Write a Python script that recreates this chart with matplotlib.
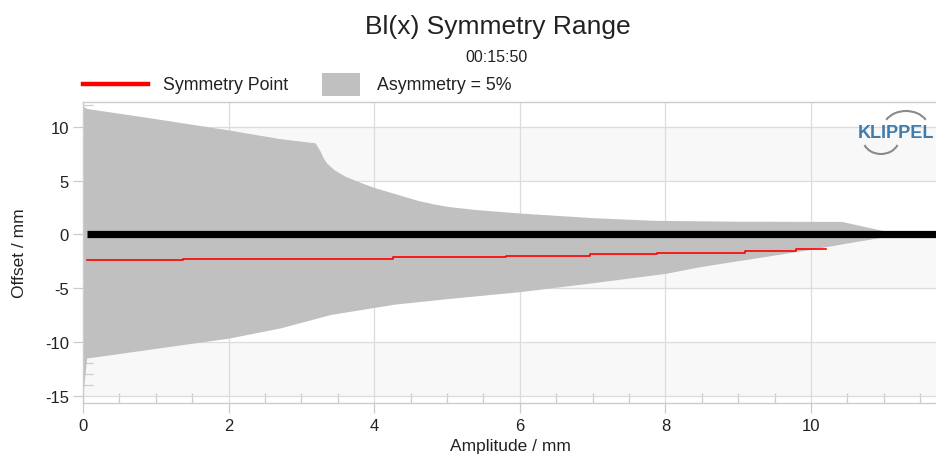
import matplotlib
matplotlib.use("Agg")
import matplotlib.pyplot as plt
from matplotlib.lines import Line2D
from matplotlib.patches import Rectangle, Arc
from matplotlib.transforms import IdentityTransform
import numpy as np

plt.rcParams['font.family'] = ['Liberation Sans', 'DejaVu Sans']
plt.rcParams['axes.unicode_minus'] = False

# ---- data ----
upper_x = [0.0, 0.05, 1.0, 2.0, 2.7, 3.19, 3.26, 3.3, 3.35, 3.45, 3.6, 3.8, 4.0, 4.2, 4.4, 4.6, 4.8, 5.0, 5.4, 6.0, 7.0, 7.84, 9.0, 10.42, 11.22, 11.73]
upper_y = [11.9, 11.7, 10.75, 9.7, 8.9, 8.5, 7.7, 7.1, 6.6, 6.0, 5.4, 4.85, 4.35, 3.95, 3.55, 3.15, 2.85, 2.6, 2.3, 1.98, 1.55, 1.3, 1.22, 1.2, 0.0, 0.0]
lower_x = [0.0, 0.05, 1.0, 2.0, 2.71, 3.4, 4.27, 5.0, 6.0, 7.0, 8.0, 8.48, 9.0, 10.0, 10.5, 11.22, 11.73]
lower_y = [-14.8, -11.5, -10.6, -9.65, -8.7, -7.45, -6.5, -5.98, -5.33, -4.5, -3.63, -3.0, -2.45, -1.39, -0.8, 0.0, 0.0]

sym_x = [0.05, 1.38, 4.26, 5.81, 6.96, 7.89, 9.09, 9.79, 10.21]
sym_y = [-2.40, -2.27, -2.14, -1.98, -1.82, -1.69, -1.55, -1.39, -1.39]

zero_line_start = 0.05

title = "Bl(x) Symmetry Range"
subtitle = "00:15:50"
legend_labels = ["Symmetry Point", "Asymmetry = 5%"]
x_ticks = [0, 2, 4, 6, 8, 10]
y_ticks = [-15, -10, -5, 0, 5, 10]

# ---- figure ----
W, H = 937, 464
fig = plt.figure(figsize=(W / 100, H / 100), dpi=100)
ax = fig.add_axes([83 / W, (H - 404) / H, (W - 83) / W, (404 - 103) / H])

xmax, ymin, ymax = 11.73, -15.68, 12.3
ax.set_xlim(0, xmax)
ax.set_ylim(ymin, ymax)

# alternating background bands
for lo, hi in [(-15, -10), (-5, 0), (5, 10)]:
    ax.axhspan(lo, hi, color='#f8f8f8', zorder=0.1, lw=0)

xf = np.union1d(upper_x, lower_x)
up = np.interp(xf, upper_x, upper_y)
lo = np.interp(xf, lower_x, lower_y)
ax.fill_between(xf, lo, up, color='#c0c0c0', lw=0, zorder=1)

ax.axhline(0, xmin=zero_line_start / xmax, xmax=1, color='black', lw=5.2, zorder=3,
           solid_capstyle='butt')
ax.step(sym_x, sym_y, where='post', color='#ff0000', lw=1.2, zorder=4)

ax.set_axisbelow(True)
ax.grid(True, which='major', color='#dcdcdc', lw=0.9)
ax.set_xticks(x_ticks)
ax.set_yticks(y_ticks)
ax.set_xticks(np.arange(0, 11.51, 0.5), minor=True)
ax.set_yticks(np.arange(-15, 12.1, 1), minor=True)
ax.tick_params(which='major', direction='out', length=7.5, width=0.9, color='#cccccc',
               labelsize=12, labelcolor='#222222')
ax.tick_params(axis='x', which='major', pad=3)
ax.tick_params(axis='y', which='major', pad=2.5)
ax.tick_params(which='minor', direction='in', length=7.5, width=0.9, color='#cccccc')

for s in ['left', 'bottom', 'top']:
    ax.spines[s].set_color('#cccccc')
    ax.spines[s].set_linewidth(1.0)
ax.spines['right'].set_visible(False)

ax.set_xlabel("Amplitude / mm", fontsize=12.5, color='#222222', labelpad=4)
ax.set_ylabel("Offset / mm", fontsize=12.5, color='#222222')
ax.yaxis.set_label_coords(-0.066, 0.5)

fig.text(498 / W, 1 - 27 / H, title, ha='center', va='center', fontsize=19, color='#222222')
fig.text(497 / W, 1 - 57 / H, subtitle, ha='center', va='center', fontsize=11.5, color='#222222')

# legend
ly = 1 - 85 / H
fig.add_artist(Line2D([83 / W, 148 / W], [ly, ly], color='#ff0000', lw=3.2, transform=fig.transFigure))
fig.text(163 / W, ly, legend_labels[0], ha='left', va='center', fontsize=12.8, color='#222222')
fig.add_artist(Rectangle((322 / W, 1 - 97 / H), 38 / W, 23 / H, transform=fig.transFigure,
                         facecolor='#c0c0c0', edgecolor='none'))
fig.text(377 / W, ly, legend_labels[1], ha='left', va='center', fontsize=12.8, color='#222222')

# logo
fig.text(896 / W, 1 - 133 / H, "KLIPPEL", ha='center', va='center', fontsize=13,
         fontweight='bold', color='#3f7cab')
fig.add_artist(Arc((906, H - 130), 46, 36, theta1=25, theta2=155, transform=IdentityTransform(),
                   color='#8a8a8a', lw=1.5))
fig.add_artist(Arc((881, H - 140), 36, 30, theta1=200, theta2=340, transform=IdentityTransform(),
                   color='#8a8a8a', lw=1.5))

fig.savefig("out.png", dpi=100)
